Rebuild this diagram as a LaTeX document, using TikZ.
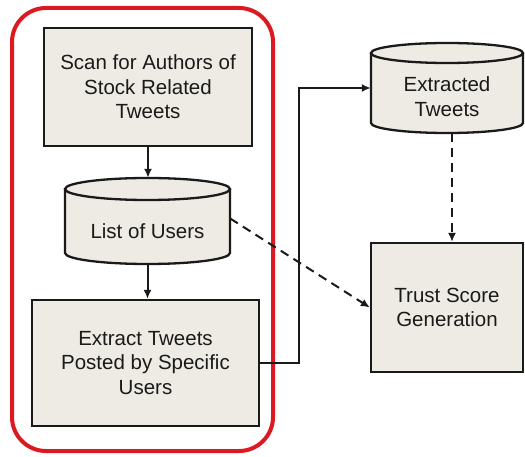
\documentclass[tikz,border=0pt]{standalone}
\usepackage{fontspec}
\setmainfont{Liberation Sans}
\usetikzlibrary{arrows.meta}
\definecolor{boxfill}{HTML}{EDEBE3}
\definecolor{ink}{HTML}{1A1A1A}
\definecolor{frame}{HTML}{DC1820}
\newcommand\drumshape[5]{% left x, right x, top-ellipse centre y, bottom-side end y, y radius
  \pgfmathsetmacro\drumcx{(#1+#2)/2}
  \pgfmathsetmacro\drumrx{(#2-#1)/2}
  \fill[boxfill] (#1,#3) -- (#1,#4) arc[start angle=180,end angle=360,x radius=\drumrx pt,y radius=#5pt]
    -- (#2,#3) arc[start angle=0,end angle=180,x radius=\drumrx pt,y radius=#5pt] -- cycle;
  \draw[drum] (#1,#3) -- (#1,#4) arc[start angle=180,end angle=360,x radius=\drumrx pt,y radius=#5pt] -- (#2,#3);
  \draw[drum] (\drumcx,#3) ellipse[x radius=\drumrx pt,y radius=#5pt];
}
\begin{document}
\begin{tikzpicture}[x=1pt,y=1pt,
  txt/.style={font=\fontsize{20.5}{24.5}\selectfont, text=ink, align=center},
  box/.style={txt, draw=ink, line width=2.3pt, fill=boxfill, inner sep=0pt},
  drum/.style={draw=ink, line width=2.3pt},
  body/.style={inner sep=0pt},
  arr/.style={draw=ink, line width=2pt, -{Latex[length=9pt,width=8pt]}},
  darr/.style={arr, dash pattern=on 9pt off 6pt}]
\useasboundingbox (0,0) rectangle (525,-457);

% grouping frame
\node[draw=frame, line width=4pt, rounded corners=34pt, minimum width=261pt, minimum height=443pt, inner sep=0pt]
  (group) at (142.5,-229.5) {};

% process boxes
\node[box, minimum width=208pt, minimum height=118pt] (scan) at (148,-87)
  {Scan for Authors of\\Stock Related\\Tweets};
\node[box, minimum width=227pt, minimum height=126pt] (extract) at (145.5,-363)
  {Extract Tweets\\Posted by Specific\\Users};
\node[box, minimum width=152pt, minimum height=129pt] (trust) at (447,-307.5)
  {Trust Score\\Generation};

% data stores
\drumshape{65}{230}{-189}{-253}{11}
\node[body, minimum width=165pt, minimum height=85pt] (users) at (147.5,-220.5) {};
\node[txt] (userstext) at (147.5,-231) {List of Users};

\drumshape{371}{523}{-53}{-123}{10}
\node[body, minimum width=152pt, minimum height=90pt] (tweets) at (447,-88) {};
\node[txt] (tweetstext) at (447,-96.5) {Extracted\\Tweets};

% connectors
\draw[arr] (scan.south) -- (scan.south |- users.north);
\draw[arr] (users.south) -- (users.south |- extract.north);
\draw[arr] (extract.east) -- ++(39,0) |- (tweets.west);
\draw[darr] ([xshift=5pt]tweets.south) -- ([xshift=5pt]trust.north);
\draw[darr] ([yshift=2pt]users.east) -- (trust.west);
\end{tikzpicture}
\end{document}
